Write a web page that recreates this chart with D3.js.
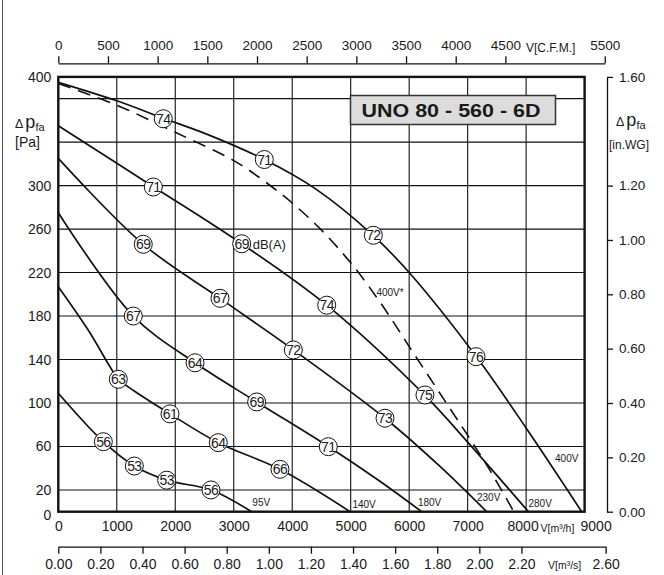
<!DOCTYPE html>
<html><head><meta charset="utf-8">
<script src="https://cdn.jsdelivr.net/npm/d3@7"></script>
<style>
html,body{margin:0;padding:0;background:#fff}
svg{display:block}
text{font-family:"Liberation Sans",Arial,Helvetica,sans-serif;fill:#1a1a1a}
</style>
</head><body>
<svg id="c" width="664" height="575"></svg>
<script>
// ---------- data ----------
const flowTicks = [0,1000,2000,3000,4000,5000,6000,7000,8000,9000];
const flowGrid = [1000,2000,3000,4000,5000,6000,7000,8000];
const pressureGrid = [20,60,100,140,180,220,260,300,340,380];
const pressureLabels = [0,20,60,100,140,180,220,260,300,400];
const cfmTicks = [0,500,1000,1500,2000,2500,3000,3500,4000,4500,5500];
const m3sTicks = [0,0.2,0.4,0.6,0.8,1.0,1.2,1.4,1.6,1.8,2.0,2.2,2.6];
const inwgTicks = [0,0.2,0.4,0.6,0.8,1.0,1.2,1.6];

// curves: [flow m3/h, pressure Pa]
const curve400V = [[0,395],[1000,378],[1795,362],[2600,346],[3523,324],[4400,297],[5387,254],[6000,220],[7143,143],[8000,77],[8950,0]];
const curve400Vstar = [[0,394],[1000,374],[2000,349],[3000,323],[3500,305],[4000,284],[4500,259],[5000,229],[5500,193],[6012,151],[6525,109],[7040,67],[7382,38],[7790,0]];
const curve280V = [[0,355],[1625,299],[3136,246.5],[4590,190],[6270,107],[7000,64],[8040,0]];
const curve230V = [[0,325],[1453,246],[2773,196],[4019,149],[5587,86],[6500,43],[7325,0]];
const curve180V = [[0,275],[1282,180],[2338,137],[3392,101],[4617,60],[5500,28],[6214,0]];
const curve140V = [[0,207],[500,168],[900,132],[1026,122],[1300,111],[1910,90],[2736,63.5],[3791,39],[4990,0]];
const curve95V = [[0,109],[770,64.4],[1300,42],[1853,29],[2611,20],[3307,0]];

// noise labels dB(A): [flow, pressure, value]
const dbLabels = [
  [1795,361.5,74],[3523,324,71],[5387,254.3,72],[7143,142.6,76],
  [1625,298.7,71],[3136,246.5,69],[4590,190,74],[6270,107.4,75],
  [1453,246,69],[2765,196.3,67],[4019,148.8,72],[5587,86,73],
  [1282,180,67],[2338,137,64],[3392,101,69],[4617,59.8,71],
  [1026,121.8,63],[1910,90,61],[2736,63.5,64],[3791,39,66],
  [770,64.4,56],[1300,42,53],[1853,29,53],[2611,20,56]
];
// voltage labels: [flow, pressure, text]
const voltLabels = [
  [3318,5,"95V"],[5030,3.5,"140V"],[6150,5.5,"180V"],[7160,10,"230V"],[8040,4,"280V"],[8495,45.5,"400V"],[5440,198,"400V*"]
];

// ---------- layout ----------
const L = 58.3, R = 584.6, T = 76.9, B = 511.7;
const svg = d3.select("#c");
const x = d3.scaleLinear().domain([0,9000]).range([L,R]);
const y = d3.scaleLinear().domain([0,400]).range([B,T]);
const xCfm = d3.scaleLinear().domain([0,5500]).range([L, L + 5500/0.5886*(R-L)/9000]);
const xM3s = d3.scaleLinear().domain([0,2.6]).range([L, L + 2.6*3600*(R-L)/9000]);
const yIn = d3.scaleLinear().domain([0,1.6]).range([B,T]);

// outer left border
svg.append("line").attr("x1",2.5).attr("x2",2.5).attr("y1",0).attr("y2",575)
  .attr("stroke","#555").attr("stroke-width",1);

// grid
const g = svg.append("g");
g.selectAll(".vg").data(flowGrid).join("line")
  .attr("x1",d=>x(d)).attr("x2",d=>x(d)).attr("y1",T).attr("y2",B)
  .attr("stroke","#111").attr("stroke-width",1.1);
g.selectAll(".hg").data(pressureGrid).join("line")
  .attr("x1",L).attr("x2",R).attr("y1",d=>y(d)).attr("y2",d=>y(d))
  .attr("stroke","#111").attr("stroke-width",1.1);

// curves
const line = d3.line().x(d=>x(d[0])).y(d=>y(d[1])).curve(d3.curveCatmullRom.alpha(0.5));
const solid = [curve400V,curve280V,curve230V,curve180V,curve140V,curve95V];
svg.append("g").selectAll("path").data(solid).join("path")
  .attr("d",line).attr("fill","none").attr("stroke","#111").attr("stroke-width",1.7);
svg.append("path").datum(curve400Vstar).attr("d",line).attr("fill","none")
  .attr("stroke","#111").attr("stroke-width",1.6).attr("stroke-dasharray","13,8");

// frame
svg.append("rect").attr("x",L).attr("y",T).attr("width",R-L).attr("height",B-T)
  .attr("fill","none").attr("stroke","#111").attr("stroke-width",2.4);

// dB labels
const lab = svg.append("g").selectAll("g").data(dbLabels).join("g")
  .attr("transform",d=>`translate(${x(d[0])},${y(d[1])})`);
lab.append("circle").attr("r",9).attr("fill","#fff").attr("stroke","#111").attr("stroke-width",1);
lab.append("text").attr("text-anchor","middle").attr("dy","0.36em").attr("font-size",14)
  .attr("letter-spacing",-0.6).text(d=>d[2]);
svg.append("text").attr("x",x(3136)+11).attr("y",y(246.5)+5).attr("font-size",13).text("dB(A)");

// voltage labels
svg.append("g").selectAll("text").data(voltLabels).join("text")
  .attr("x",d=>x(d[0])).attr("y",d=>y(d[1])).attr("font-size",10).text(d=>d[2]);

// title box
svg.append("rect").attr("x",350.5).attr("y",95.5).attr("width",205).attr("height",29)
  .attr("fill","#dcdcdc").attr("stroke","#333").attr("stroke-width",1.5);
svg.append("text").attr("x",361.5).attr("y",117).attr("font-size",17.5).attr("font-weight","bold")
  .attr("textLength",179).attr("lengthAdjust","spacingAndGlyphs").attr("fill","#222")
  .text("UNO 80 - 560 - 6D");

// left axis labels (Pa)
const ax = svg.append("g").attr("transform",`translate(${L},0)`)
  .call(d3.axisLeft(y).tickValues(pressureLabels).tickSize(0).tickPadding(7));
ax.select(".domain").remove();
ax.selectAll("text").attr("font-size",14).style("font-family",null).attr("fill","#1a1a1a");
ax.selectAll(".tick").filter(d=>d===0).select("text").attr("dy","0.55em");

// left axis title
const lt = svg.append("text").attr("x",15).attr("y",127.5);
lt.append("tspan").attr("font-size",12.5).text("Δ");
lt.append("tspan").attr("font-size",18).attr("dx",2).text("p");
lt.append("tspan").attr("font-size",11).attr("dy",3).text("fa");
svg.append("text").attr("x",15).attr("y",146.5).attr("font-size",14).text("[Pa]");

// bottom m3/h labels
const bx = svg.append("g").attr("transform",`translate(0,${B})`)
  .call(d3.axisBottom(x).tickValues(flowTicks).tickSize(0).tickPadding(9).tickFormat(d3.format("d")));
bx.select(".domain").remove();
bx.selectAll("text").attr("font-size",14).style("font-family",null).attr("fill","#1a1a1a");
bx.selectAll(".tick").filter(d=>d===8000).select("text").attr("dx",-3.5);
bx.selectAll(".tick").filter(d=>d===9000).select("text").attr("dx",11);
svg.append("text").attr("x",540.5).attr("y",532).attr("font-size",10.5).text("V[m³/h]");

// bottom m3/s axis
const sx = svg.append("g").attr("transform",`translate(0,546.7)`)
  .call(d3.axisBottom(xM3s).tickValues(m3sTicks).tickSize(7).tickSizeOuter(0).tickPadding(5).tickFormat(d3.format(".2f")));
sx.selectAll("path,line").attr("stroke","#111").attr("stroke-width",1.3);
sx.selectAll("text").attr("font-size",14).style("font-family",null).attr("fill","#1a1a1a");
svg.append("text").attr("x",548).attr("y",569).attr("font-size",10.5).text("V[m³/s]");

// top CFM axis
const tx = svg.append("g").attr("transform",`translate(0,63.3)`)
  .call(d3.axisTop(xCfm).tickValues(cfmTicks).tickSize(7).tickSizeOuter(0).tickPadding(6).tickFormat(d3.format("d")));
tx.selectAll("path,line").attr("stroke","#111").attr("stroke-width",1.3);
tx.selectAll("text").attr("font-size",13.5).style("font-family",null).attr("fill","#1a1a1a");
svg.append("text").attr("x",526).attr("y",51.7).attr("font-size",12).text("V[C.F.M.]");

// right in.WG axis
const rx = svg.append("g").attr("transform",`translate(607,0)`)
  .call(d3.axisRight(yIn).tickValues(inwgTicks).tickSize(6).tickSizeOuter(0).tickPadding(6).tickFormat(d3.format(".2f")));
rx.selectAll("path,line").attr("stroke","#111").attr("stroke-width",1.3);
rx.selectAll("text").attr("font-size",13.5).style("font-family",null).attr("fill","#1a1a1a");
const rt = svg.append("text").attr("x",616).attr("y",126);
rt.append("tspan").attr("font-size",12.5).text("Δ");
rt.append("tspan").attr("font-size",18).attr("dx",2).text("p");
rt.append("tspan").attr("font-size",11).attr("dy",3).text("fa");
svg.append("text").attr("x",609).attr("y",149).attr("font-size",12).text("[in.WG]");
</script>
</body></html>
